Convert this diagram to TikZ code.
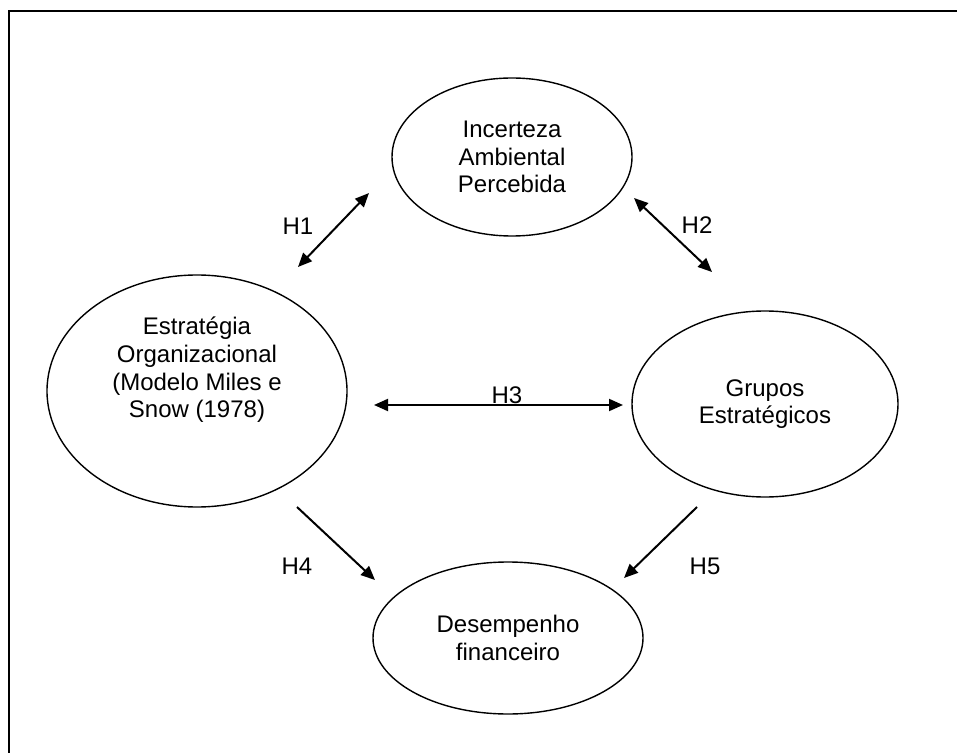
\documentclass[tikz,border=0pt]{standalone}
\usepackage{fontspec}
\setmainfont{Liberation Sans}
\usetikzlibrary{arrows.meta,shapes.geometric}

\tikzset{
  oval/.style={draw,ellipse,line width=0.7pt,inner sep=0pt},
  txt/.style={align=center,font=\fontsize{12}{13.8}\selectfont},
  hyp/.style={font=\fontsize{12}{13.8}\selectfont},
  link/.style={line width=1pt,-{Triangle[length=7pt,width=6pt]}},
  twoway/.style={line width=1pt,{Triangle[length=7pt,width=6pt]}-{Triangle[length=7pt,width=6pt]}}
}

\begin{document}
\begin{tikzpicture}[x=0.5pt,y=-0.5pt]
\useasboundingbox (0,0) rectangle (957,753);
\draw[line width=0.8pt] (957,11) -- (9,11) -- (9,753);

% ellipses
\node[oval,txt,minimum width=120pt,minimum height=79pt] (ince) at (512,157) {Incerteza\\Ambiental\\Percebida};
\node[oval,minimum width=150pt,minimum height=116pt] (estr) at (197,391) {};
\node[txt] (estrtxt) at (197,370) {Estratégia\\Organizacional\\(Modelo Miles e\\Snow (1978)};
\node[oval,txt,minimum width=133pt,minimum height=93pt] (grup) at (765,404) {Grupos\\Estratégicos};
\node[oval,txt,minimum width=135pt,minimum height=76pt] (dese) at (508,638) {Desempenho\\financeiro};

% arrow ends
\coordinate (h1a) at (298,267); \coordinate (h1b) at (369,193);
\coordinate (h2a) at (634,198); \coordinate (h2b) at (712,272);
\coordinate (h3a) at (374,405); \coordinate (h3b) at (623,405);
\coordinate (h4a) at (297,507); \coordinate (h4b) at (375,580);
\coordinate (h5a) at (697,507); \coordinate (h5b) at (624,578);

\draw[twoway] (h1a) -- (h1b);
\draw[twoway] (h2a) -- (h2b);
\draw[twoway] (h3a) -- (h3b);
\draw[link] (h4a) -- (h4b);
\draw[link] (h5a) -- (h5b);

\node[hyp] (lh1) at (298,226) {H1};
\node[hyp] (lh2) at (697,225) {H2};
\node[hyp] (lh3) at (507,395) {H3};
\node[hyp] (lh4) at (297,566) {H4};
\node[hyp] (lh5) at (705,566) {H5};
\end{tikzpicture}
\end{document}
